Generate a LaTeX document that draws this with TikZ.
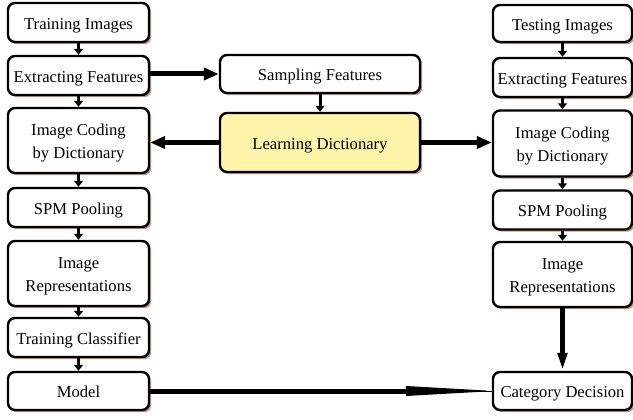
\documentclass[tikz,border=0pt]{standalone}
\usepackage{fontspec}
\setmainfont{Liberation Serif}
\usetikzlibrary{arrows.meta,shadows,calc}
\definecolor{shadowc}{RGB}{196,150,122}
\definecolor{ldfill}{RGB}{255,245,170}
\newcommand\lowtext[1]{\raisebox{-2.2pt}[\height][\depth]{\begin{tabular}{@{}c@{}}#1\end{tabular}}}
\tikzset{
  box/.style={draw=black, line width=2.4pt, rounded corners=7pt, fill=white,
    align=center, inner sep=0pt,
    font=\fontsize{16.6}{23}\selectfont,
    drop shadow={shadow xshift=2.2pt, shadow yshift=-2.2pt, fill=shadowc, opacity=1}},
  smallarr/.style={line width=3pt, -{Triangle[length=6pt,width=9pt]}},
  bigarr/.style={line width=5pt, -{Triangle[length=15pt,width=12pt]}},
}
\begin{document}
\begin{tikzpicture}[x=1pt,y=1pt]
\useasboundingbox (0,0) rectangle (633,-420);
% left column
\node[box, minimum width=141pt, minimum height=39pt] (ti) at (78.5,-22.5) {\lowtext{Training Images}};
\node[box, minimum width=141pt, minimum height=39pt] (ef) at (78.5,-75.5) {\lowtext{Extracting Features}};
\node[box, minimum width=141pt, minimum height=65pt] (ic) at (78.5,-140.5) {\lowtext{Image Coding\\by Dictionary}};
\node[box, minimum width=141pt, minimum height=39pt] (spm) at (78.5,-207.5) {\lowtext{SPM Pooling}};
\node[box, minimum width=141pt, minimum height=65pt] (ir) at (78.5,-273.5) {\lowtext{Image\\Representations}};
\node[box, minimum width=141pt, minimum height=39pt] (tc) at (78.5,-337.5) {\lowtext{Training Classifier}};
\node[box, minimum width=141pt, minimum height=38pt] (m) at (78.5,-391) {\lowtext{Model}};
% middle
\node[box, minimum width=200pt, minimum height=38pt] (sf) at (320,-74) {\lowtext{Sampling Features}};
\node[box, fill=ldfill, minimum width=200pt, minimum height=59pt] (ld) at (320,-142.5) {\lowtext{Learning Dictionary}};
% right column
\node[box, minimum width=139pt, minimum height=37pt] (tei) at (562.5,-23.5) {\lowtext{Testing Images}};
\node[box, minimum width=139pt, minimum height=39pt] (ef2) at (562.5,-77.5) {\lowtext{Extracting Features}};
\node[box, minimum width=139pt, minimum height=66pt] (ic2) at (562.5,-143.5) {\lowtext{Image Coding\\by Dictionary}};
\node[box, minimum width=139pt, minimum height=39pt] (spm2) at (562.5,-210) {\lowtext{SPM Pooling}};
\node[box, minimum width=139pt, minimum height=65pt] (ir2) at (562.5,-274.5) {\lowtext{Image\\Representations}};
\node[box, minimum width=139pt, minimum height=38pt] (cd) at (562.5,-391) {\lowtext{Category Decision}};
% short vertical arrows
\draw[smallarr] (ti) -- (ef);
\draw[smallarr] (ef) -- (ic);
\draw[smallarr] (ic) -- (spm);
\draw[smallarr] (spm) -- (ir);
\draw[smallarr] (ir) -- (tc);
\draw[smallarr] (tc) -- (m);
\draw[smallarr] (sf) -- (ld);
\draw[smallarr] (tei) -- (ef2);
\draw[smallarr] (ef2) -- (ic2);
\draw[smallarr] (ic2) -- (spm2);
\draw[smallarr] (spm2) -- (ir2);
% big arrows
\draw[bigarr] (ef.east |- sf.west) -- (sf.west);
\draw[bigarr] (ld.west) -- (ld.west -| ic.east);
\draw[bigarr] (ld.east) -- (ld.east -| ic2.west);
\draw[line width=5pt, -{Triangle[length=18pt,width=9pt]}] (ir2) -- (cd);
% model -> category decision with long tapered head
\coordinate (hb) at ($(cd.west)+(-86,0)$);
\draw[line width=5pt] (m.east) -- (hb);
\draw[line width=1pt] (hb) -- (cd.west);
\fill ($(hb)+(0,5)$) -- ($(cd.west)+(-6,0.5)$) -- ($(cd.west)+(-6,-0.5)$) -- ($(hb)+(0,-5)$) -- cycle;
\end{tikzpicture}
\end{document}
